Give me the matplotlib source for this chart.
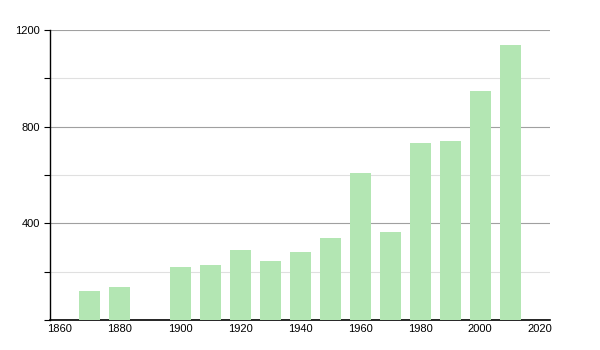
import matplotlib
matplotlib.use("Agg")
import matplotlib.pyplot as plt
from matplotlib.ticker import MultipleLocator

years = [1870, 1880, 1900, 1910, 1920, 1930, 1940, 1950, 1960, 1970, 1980, 1990, 2000, 2010]
values = [120, 137, 219, 228, 290, 244, 281, 339, 608, 364, 732, 740, 947, 1138]
x_ticks = [1860, 1880, 1900, 1920, 1940, 1960, 1980, 2000, 2020]
y_ticks = [400, 800, 1200]

plt.rcParams['font.family'] = ['Liberation Sans', 'DejaVu Sans']

fig = plt.figure(figsize=(6, 3.5), dpi=100)
ax = fig.add_axes([50/600, 30/350, 500/600, 290/350])

ax.bar(years, values, width=7, color='#b3e6b3', zorder=3)

# axis runs a bit past the first and last tick
ax.set_xlim(1860 - 10/3, 2020 + 10/3)
ax.set_ylim(0, 1200)
ax.set_xticks(x_ticks)
ax.set_yticks(y_ticks)
ax.yaxis.set_minor_locator(MultipleLocator(200))

# major grid darker, minor lighter
ax.grid(axis='y', which='major', color='#a0a0a0', linewidth=0.8, zorder=0)
ax.grid(axis='y', which='minor', color='#e0e0e0', linewidth=0.8, zorder=0)

for spine in ['top', 'right']:
    ax.spines[spine].set_visible(False)
ax.spines['left'].set_linewidth(1)
ax.spines['bottom'].set_linewidth(1.2)

ax.tick_params(axis='y', which='both', length=4, width=0.8, labelsize=8, pad=3)
ax.tick_params(axis='x', length=0, labelsize=8, pad=3)

fig.savefig('out.png', dpi=100)
